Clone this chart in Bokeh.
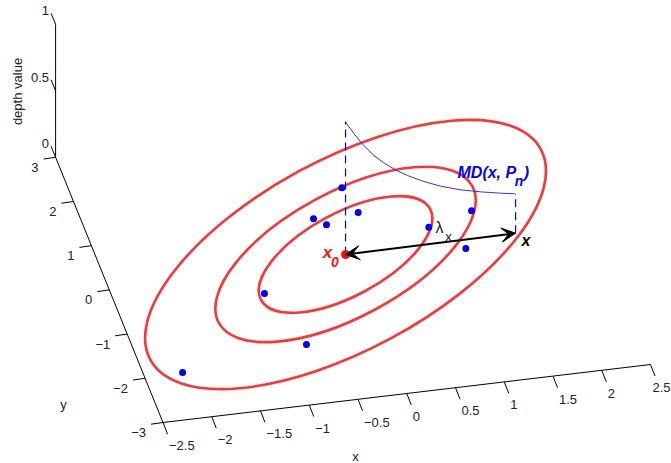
from bokeh.plotting import figure
from bokeh.models import Range1d, Arrow, VeeHead
from bokeh.core.properties import value
from bokeh.embed import file_html
from bokeh.resources import INLINE

# --- data -------------------------------------------------------------
x_ticks = [-2.5, -2, -1.5, -1, -0.5, 0, 0.5, 1, 1.5, 2, 2.5]
x_tick_labels = ["\u22122.5", "\u22122", "\u22121.5", "\u22121", "\u22120.5", "0", "0.5", "1", "1.5", "2", "2.5"]
y_ticks = [-3, -2, -1, 0, 1, 2, 3]
y_tick_labels = ["\u22123", "\u22122", "\u22121", "0", "1", "2", "3"]
z_ticks = [0, 0.5, 1]
z_tick_labels = ["0", "0.5", "1"]

points_x = [-2.11, -0.996, -0.787, -0.22, -0.117, 0.18, 0.242, 0.875, 1.153, 1.358]
points_y = [-1.97, -0.476, -1.685, 1.01, 0.847, 1.607, 1.032, 0.533, -0.022, 0.777]

x0_point = (-0.048, 0.158)
x_point = (1.70, 0.18)

# depth along the segment x0 -> x
segment_t = [0.0, 0.05, 0.098, 0.167, 0.225, 0.294, 0.363, 0.461, 0.559, 0.676, 0.794, 0.912, 0.996, 1.0]
segment_depth = [0.995, 0.90, 0.816, 0.717, 0.653, 0.589, 0.536, 0.475, 0.424, 0.378, 0.344, 0.315, 0.297, 0.295]

# the three depth contours (picture size of the ellipses)
contour_major = [192.0, 288.0, 443.6]
contour_minor = [83.0, 125.0, 190.8]
contour_tilt = 0.494

RED = "#ff3333"
BLUE = "#0000ff"
FONT = value("Liberation Sans")


def proj(x, y, z=0.0):
    """Orthographic 3-D view of the box, in figure units."""
    a, b = x + 2.5, y + 3.0
    return (162.5 + 97.5 * a - 17.9 * b, 41.0 + 11.6 * a + 44.2 * b + 133.0 * z)


W, H = 671, 463
p = figure(width=W, height=H, output_backend="svg", toolbar_location=None,
           x_range=Range1d(0, 671), y_range=Range1d(0, 463), min_border=0,
           outline_line_color=None, background_fill_color="white", border_fill_color="white")
p.axis.visible = False
p.grid.visible = False


def seg(a, b, color="black", width=1.0, dash="solid"):
    p.line([a[0], b[0]], [a[1], b[1]], line_color=color, line_width=width, line_dash=dash)


def label(u, v, s, size=13, color="#222222", align="center", baseline="middle", style="normal", angle=0):
    p.text([u], [v], text=[s], text_font=FONT, text_font_size=f"{size}px", text_color=color,
           text_align=align, text_baseline=baseline, text_font_style=style, angle=angle)


# axes
seg(proj(-2.5, -3), proj(2.5, -3))
seg(proj(-2.5, -3), proj(-2.5, 3))
seg(proj(-2.5, 3), proj(-2.5, 3, 1))

for t, s in zip(x_ticks, x_tick_labels):
    u, v = proj(t, -3)
    seg((u, v), (u + 4.5, v - 11.5))
    if u + 24 > 671:
        label(670, v - 23, s, align="right")
    else:
        label(u + 6, v - 23, s, align="left")

for t, s in zip(y_ticks, y_tick_labels):
    u, v = proj(-2.5, t)
    seg((u, v), (u - 12, v - 1.7))
    label(u - 17, v - 10, s, align="right")

for t, s in zip(z_ticks, z_tick_labels):
    u, v = proj(-2.5, 3, t)
    seg((u, v), (u - 4.5, v + 11))
    label(u - 6.5, v + 13.5, s, align="right")

label(17, 463 - 91, "depth value", angle=1.5708)
label(63, 463 - 404, "y")
label(355, 463 - 456, "x")

# contours
cu, cv = proj(*x0_point)
p.ellipse([cu] * 3, [cv] * 3, width=contour_major, height=contour_minor, angle=contour_tilt,
          fill_color=None, line_color=RED, line_width=2.6)

# depth profile over the segment
px_ = [x0_point[0] + t * (x_point[0] - x0_point[0]) for t in segment_t]
py_ = [x0_point[1] + t * (x_point[1] - x0_point[1]) for t in segment_t]
prof = [proj(a, b, d) for a, b, d in zip(px_, py_, segment_depth)]
p.line([q[0] for q in prof], [q[1] for q in prof], line_color="#3030ff", line_width=1)
seg(proj(*x0_point), proj(x0_point[0], x0_point[1], 1.0), color=BLUE, width=1.2, dash="8 5")
seg(proj(*x_point), prof[-1], color=BLUE, width=1.2, dash="8 5")

# points
pts = [proj(a, b) for a, b in zip(points_x, points_y)]
p.scatter([q[0] for q in pts], [q[1] for q in pts], size=7, color=BLUE, line_width=0)
p.scatter([cu], [cv], size=9, color="#f01010", line_width=0)

# arrow
xu, xv = proj(*x_point)
p.add_layout(Arrow(x_start=cu, y_start=cv, x_end=xu, y_end=xv, line_width=2, line_color="black",
                   start=VeeHead(size=14, fill_color="black", line_color="black", line_width=1),
                   end=VeeHead(size=14, fill_color="black", line_color="black", line_width=1)))

# annotations
label(327, 463 - 252, "x", size=17, color="#ff1010", style="bold italic")
label(334.5, 463 - 261, "0", size=14, color="#ff1010", style="bold italic")
label(525.5, 463 - 240, "x", size=16, color="black", style="bold italic")
label(457, 463 - 172, "MD(x, P", size=16, color=BLUE, style="bold italic", align="left")
label(518.5, 463 - 180, "n", size=14, color=BLUE, style="bold italic")
label(526, 463 - 172, ")", size=16, color=BLUE, style="bold italic")
label(439, 463 - 227, "\u03bb", size=16, color="#222222")
label(448, 463 - 236, "x", size=13, color="#222222")

open("out.html", "w").write(file_html(p, INLINE))
